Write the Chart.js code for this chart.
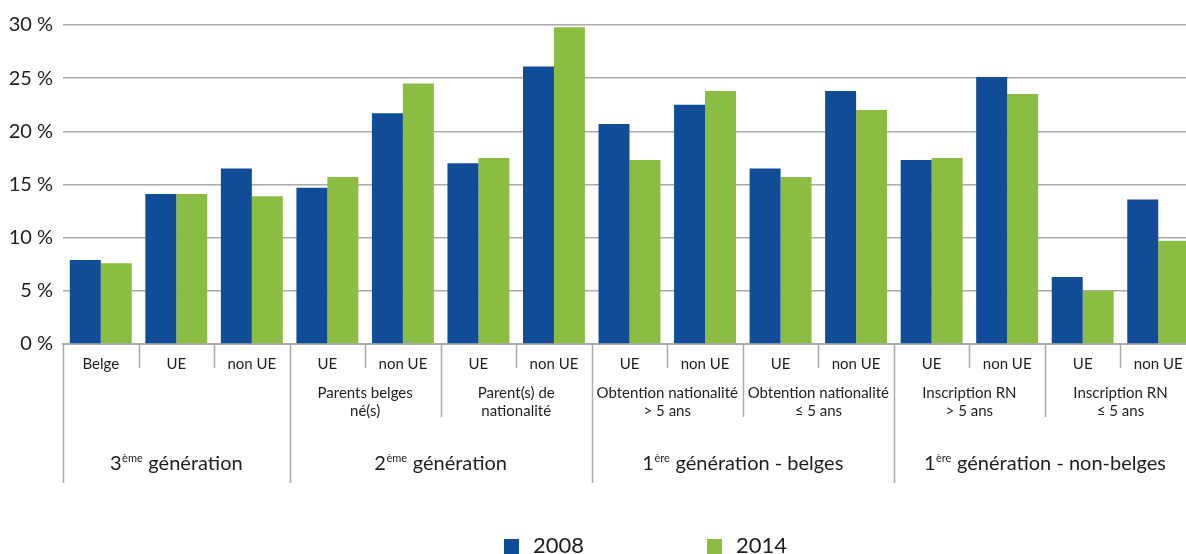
<!DOCTYPE html>
<html lang="fr">
<head>
<meta charset="utf-8">
<title>Générations 2008 / 2014</title>
<script src="https://cdn.jsdelivr.net/npm/chart.js@4.4.1/dist/chart.umd.min.js"></script>
<style>
  html, body { margin: 0; padding: 0; background: #fff; overflow: hidden; }
  #wrap { position: relative; width: 1197px; height: 554px; }
</style>
</head>
<body>
<div id="wrap"><canvas id="chart"></canvas></div>
<script>
// categories (bottom row of the axis)
const categories = ["Belge", "UE", "non UE", "UE", "non UE", "UE", "non UE",
  "UE", "non UE", "UE", "non UE", "UE", "non UE", "UE", "non UE"];

// series values, in %
const values2008 = [7.9, 14.1, 16.5, 14.7, 21.7, 17.0, 26.1, 20.7, 22.5, 16.5, 23.8, 17.3, 25.1, 6.3, 13.6];
const values2014 = [7.6, 14.1, 13.9, 15.7, 24.5, 17.5, 29.8, 17.3, 23.8, 15.7, 22.0, 17.5, 23.5, 5.0, 9.7];
const seriesNames = ["2008", "2014"];

// middle row: labels and how many categories each one covers
const subLabels = [[], ["Parents belges", "né(s)"], ["Parent(s) de", "nationalité"],
  ["Obtention nationalité", "> 5 ans"], ["Obtention nationalité", "≤ 5 ans"],
  ["Inscription RN", "> 5 ans"], ["Inscription RN", "≤ 5 ans"]];
const subSizes = [3, 2, 2, 2, 2, 2, 2];

// top row: number, superscript, rest of the text, size
const groupNums = ["3", "2", "1", "1"];
const groupSup = ["ème", "ème", "ère", "ère"];
const groupRest = [" génération", " génération", " génération - belges", " génération - non-belges"];
const groupSizes = [3, 4, 4, 4];

// y ticks
const yMin = 0, yMax = 30, yStep = 5;

const BLUE = "#104C97";
const GREEN = "#8CBD43";
const TEXT = "#1e1e1e";
const LINE = "#ababab";
const FONT = "Lato, 'Open Sans', sans-serif";

const groupAxis = {
  id: "groupAxis",
  afterDraw(chart) {
    const ctx = chart.ctx;
    const x = chart.scales.x;
    const n = categories.length;
    const w = (x.right - x.left) / n;
    const base = chart.chartArea.bottom;
    const edge = i => x.left + i * w;

    // where do subgroups / groups end
    const subEnds = new Set();
    let acc = 0;
    subSizes.forEach(s => { acc += s; subEnds.add(acc); });
    const groupEnds = new Set([0]);
    acc = 0;
    groupSizes.forEach(s => { acc += s; groupEnds.add(acc); });

    ctx.save();
    ctx.strokeStyle = LINE;
    ctx.lineWidth = 1.5;
    for (let i = 0; i <= n; i++) {
      let len = 24;
      if (groupEnds.has(i)) len = 139;
      else if (subEnds.has(i)) len = 73;
      ctx.beginPath();
      ctx.moveTo(Math.round(edge(i)) + 0.5, base);
      ctx.lineTo(Math.round(edge(i)) + 0.5, base + len);
      ctx.stroke();
    }

    ctx.fillStyle = TEXT;
    ctx.textAlign = "center";
    ctx.textBaseline = "middle";

    // bottom row
    ctx.font = "15px " + FONT;
    categories.forEach((c, i) => {
      ctx.fillText(c, x.getPixelForValue(i), base + 20);
    });

    // middle row
    let start = 0;
    subLabels.forEach((lines, k) => {
      const cx = edge(start) + subSizes[k] * w / 2;
      lines.forEach((t, j) => ctx.fillText(t, cx, base + 49 + j * 18));
      start += subSizes[k];
    });

    // top row with superscript
    start = 0;
    ctx.textAlign = "left";
    ctx.textBaseline = "alphabetic";
    groupNums.forEach((num, k) => {
      const cx = edge(start) + groupSizes[k] * w / 2;
      ctx.font = "20px " + FONT;
      const wn = ctx.measureText(num).width;
      const wr = ctx.measureText(groupRest[k]).width;
      ctx.font = "11px " + FONT;
      const ws = ctx.measureText(groupSup[k]).width + 1;
      let px = cx - (wn + ws + wr) / 2;
      const by = base + 126;
      ctx.font = "20px " + FONT;
      ctx.fillText(num, px, by);
      px += wn;
      ctx.font = "11px " + FONT;
      ctx.fillText(groupSup[k], px + 0.5, by - 8);
      px += ws;
      ctx.font = "20px " + FONT;
      ctx.fillText(groupRest[k], px, by);
      start += groupSizes[k];
    });

    // legend
    const legX = [504, 707];
    chart.data.datasets.forEach((ds, i) => {
      ctx.fillStyle = ds.backgroundColor;
      ctx.fillRect(legX[i], 539, 15, 15);
      ctx.fillStyle = TEXT;
      ctx.font = "22px " + FONT;
      ctx.fillText(ds.label, legX[i] + 29, 553);
    });
    ctx.restore();
  }
};

new Chart(document.getElementById("chart"), {
  type: "bar",
  data: {
    labels: categories,
    datasets: [
      { label: seriesNames[0], data: values2008, backgroundColor: BLUE },
      { label: seriesNames[1], data: values2014, backgroundColor: GREEN }
    ]
  },
  options: {
    responsive: true,
    maintainAspectRatio: false,
    animation: false,
    layout: { padding: { top: 25, bottom: 210, left: 0, right: 1 } },
    datasets: { bar: { categoryPercentage: 0.82, barPercentage: 1 } },
    plugins: { legend: { display: false }, tooltip: { enabled: false } },
    scales: {
      x: {
        grid: { display: false, drawTicks: false },
        border: { display: true, color: LINE, width: 2 },
        ticks: { display: false },
        afterFit: s => { s.height = 0; }
      },
      y: {
        min: yMin,
        max: yMax,
        ticks: {
          stepSize: yStep,
          padding: 10,
          color: TEXT,
          font: { family: FONT, size: 20 },
          callback: v => v + " %"
        },
        grid: { color: LINE, lineWidth: 1.5, drawTicks: false },
        border: { display: false },
        afterFit: s => { s.width = 63; }
      }
    }
  },
  plugins: [groupAxis]
});
</script>
</body>
</html>
